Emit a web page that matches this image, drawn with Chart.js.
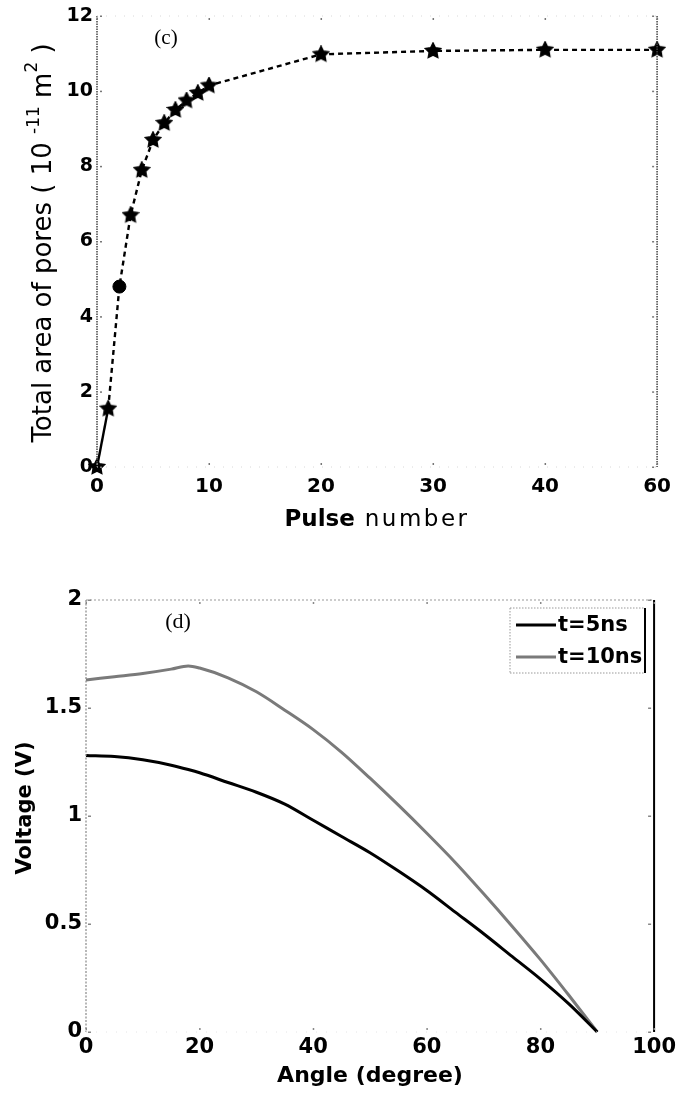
<!DOCTYPE html>
<html>
<head>
<meta charset="utf-8">
<script src="https://cdn.jsdelivr.net/npm/chart.js@4.4.1/dist/chart.umd.min.js"></script>
<style>
html,body{margin:0;padding:0;background:#fff;}
#wrap{position:relative;width:679px;height:1097px;background:#fff;overflow:hidden;}
#c1{position:absolute;left:0;top:0;}
#c2{position:absolute;left:0;top:540px;}
</style>
</head>
<body>
<div id="wrap">
<canvas id="c1" width="679" height="540"></canvas>
<canvas id="c2" width="679" height="557"></canvas>
</div>
<script>
// ---------- Panel (c) data ----------
const pulseNumbers = [0, 1, 2, 3, 4, 5, 6, 7, 8, 9, 10, 20, 30, 40, 60];
const poreArea = [0, 1.55, 4.8, 6.7, 7.9, 8.7, 9.15, 9.5, 9.75, 9.95, 10.15, 10.98, 11.07, 11.1, 11.1];
const pulseMarkers = ['star','star','circle','star','star','star','star','star','star','star','star','star','star','star','star'];
const pulseTickValues = [0, 10, 20, 30, 40, 60];
const pulseTickLabels = ['0', '10', '20', '30', '40', '60'];
const areaTickValues = [0, 2, 4, 6, 8, 10, 12];
const areaTickLabels = ['0', '2', '4', '6', '8', '10', '12'];

// ---------- Panel (d) data ----------
const angles = [0, 5, 10, 15, 18, 20, 25, 30, 35, 40, 45, 50, 55, 60, 65, 70, 75, 80, 85, 90];
const voltage5ns = [1.28, 1.275, 1.26, 1.235, 1.215, 1.2, 1.155, 1.11, 1.055, 0.98, 0.905, 0.83, 0.745, 0.655, 0.555, 0.455, 0.35, 0.245, 0.13, 0.0];
const voltage10ns = [1.63, 1.645, 1.66, 1.68, 1.695, 1.685, 1.64, 1.575, 1.49, 1.4, 1.295, 1.175, 1.05, 0.92, 0.785, 0.64, 0.49, 0.335, 0.17, 0.0];
const seriesLabels = ['t=5ns', 't=10ns'];
const angleTickValues = [0, 20, 40, 60, 80, 100];
const angleTickLabels = ['0', '20', '40', '60', '80', '100'];
const voltageTickValues = [0, 0.5, 1, 1.5, 2];
const voltageTickLabels = ['0', '0.5', '1', '1.5', '2'];

// The pulse axis has evenly spaced tick labels (0,10,20,30,40,60): map a pulse
// number to its position along that broken axis.
function pulseAxisPos(p) {
  for (let i = 0; i < pulseTickValues.length - 1; i++) {
    const a = pulseTickValues[i], b = pulseTickValues[i + 1];
    if (p <= b) return i * 10 + (p - a) / (b - a) * 10;
  }
  return (pulseTickValues.length - 1) * 10;
}

// filled pentagram marker
function makeStar(r) {
  const c = document.createElement('canvas');
  const s = Math.ceil(r * 2 + 2);
  c.width = s; c.height = s;
  const g = c.getContext('2d');
  g.fillStyle = '#000';
  g.strokeStyle = '#000';
  g.lineWidth = 1.5;
  g.beginPath();
  for (let i = 0; i < 10; i++) {
    const rad = i % 2 === 0 ? r : r * 0.5;
    const a = -Math.PI / 2 + i * Math.PI / 5;
    const x = s / 2 + rad * Math.cos(a), y = s / 2 + rad * Math.sin(a);
    if (i === 0) g.moveTo(x, y); else g.lineTo(x, y);
  }
  g.closePath();
  g.fill();
  g.stroke();
  return c;
}
const starImg = makeStar(8);

function line(ctx, x1, y1, x2, y2, color, width, dash) {
  ctx.save();
  ctx.strokeStyle = color; ctx.lineWidth = width; ctx.setLineDash(dash || []);
  ctx.beginPath(); ctx.moveTo(x1, y1); ctx.lineTo(x2, y2); ctx.stroke();
  ctx.restore();
}

function drawRich(ctx, parts, cx, cy, angle) {
  ctx.save();
  ctx.translate(cx, cy);
  ctx.rotate(angle || 0);
  ctx.fillStyle = '#000';
  ctx.textAlign = 'left';
  ctx.textBaseline = 'alphabetic';
  let total = 0;
  parts.forEach(p => {
    ctx.font = p.font;
    if ('letterSpacing' in ctx) ctx.letterSpacing = p.ls || '0px';
    p.w = ctx.measureText(p.text).width;
    total += p.w;
  });
  let x = -total / 2;
  parts.forEach(p => {
    ctx.font = p.font;
    if ('letterSpacing' in ctx) ctx.letterSpacing = p.ls || '0px';
    ctx.fillText(p.text, x, p.dy || 0);
    x += p.w;
  });
  ctx.restore();
}

const tickFontCx = { family: 'DejaVu Sans', size: 20, weight: 'bold' };
const tickFontCy = { family: 'DejaVu Sans', size: 19, weight: 'bold' };
const tickFontD = { family: 'DejaVu Sans', size: 21, weight: 'bold' };

// ---------- Panel (c) ----------
const decorC = {
  id: 'decorC',
  afterDraw(chart) {
    const ctx = chart.ctx, a = chart.chartArea;
    const xs = chart.scales.x, ys = chart.scales.y;
    // frame
    line(ctx, a.left, a.top, a.left, a.bottom, '#444', 1.5, [1.5, 1]);
    line(ctx, a.right, a.top, a.right, a.bottom, '#444', 1.5, [1.5, 1]);
    line(ctx, a.left, a.top, a.right, a.top, '#d8d8d8', 1, [1, 8]);
    line(ctx, a.left, a.bottom, a.right, a.bottom, '#d8d8d8', 1, [1, 8]);
    // tiny tick marks
    ctx.save(); ctx.fillStyle = '#777';
    pulseTickValues.forEach((v, i) => {
      const x = xs.getPixelForValue(i * 10);
      ctx.fillRect(x - 0.5, a.bottom - 4, 1.5, 2);
      ctx.fillRect(x - 0.5, a.top + 2, 1.5, 2);
    });
    areaTickValues.forEach(v => {
      const y = ys.getPixelForValue(v);
      ctx.fillRect(a.left + 3, y - 0.5, 2, 1.5);
      ctx.fillRect(a.right - 5, y - 0.5, 2, 1.5);
    });
    ctx.restore();
    // panel label
    ctx.save();
    ctx.fillStyle = '#000';
    ctx.font = '21px "Liberation Serif", "DejaVu Serif", serif';
    ctx.textAlign = 'center'; ctx.textBaseline = 'middle';
    ctx.fillText('(c)', 166, 38);
    ctx.restore();
    // y title
    const big = '26px "DejaVu Sans"';
    const sup = '17px "DejaVu Sans"';
    drawRich(ctx, [
      { text: 'Total area of pores ( 10 ', font: big },
      { text: '-11', font: sup, dy: -12 },
      { text: ' m', font: big },
      { text: '2', font: sup, dy: -14 },
      { text: ' )', font: big }
    ], 51, 243, -Math.PI / 2);
    // x title
    drawRich(ctx, [
      { text: 'Pulse', font: 'bold 23px "DejaVu Sans"' },
      { text: ' number', font: '23px "DejaVu Sans"', ls: '2.5px' }
    ], 377, 526, 0);
  }
};

new Chart(document.getElementById('c1'), {
  type: 'line',
  data: {
    datasets: [{
      data: pulseNumbers.map((p, i) => ({ x: pulseAxisPos(p), y: poreArea[i] })),
      borderColor: '#000',
      borderWidth: 2.4,
      borderDash: [5, 4],
      segment: { borderDash: ctx => ctx.p0DataIndex === 0 ? [] : [5, 4] },
      pointStyle: pulseMarkers.map(m => m === 'star' ? starImg : 'circle'),
      pointRadius: 6.5,
      pointBackgroundColor: '#000',
      pointBorderColor: '#000',
      pointBorderWidth: 1,
      tension: 0,
      clip: false
    }]
  },
  options: {
    responsive: false,
    animation: false,
    devicePixelRatio: 1,
    layout: { padding: { top: 16, right: 18, left: 0, bottom: 0 } },
    plugins: { legend: { display: false }, tooltip: { enabled: false } },
    scales: {
      x: {
        type: 'linear', min: 0, max: 50,
        afterBuildTicks: s => { s.ticks = pulseTickValues.map((v, i) => ({ value: i * 10 })); },
        afterFit: s => { s.height = 73; },
        ticks: {
          autoSkip: false, maxRotation: 0, padding: 8, color: '#000', font: tickFontCx,
          callback: (v, i) => pulseTickLabels[i]
        },
        grid: { display: false, drawTicks: false },
        border: { display: false }
      },
      y: {
        type: 'linear', min: 0, max: 12,
        afterBuildTicks: s => { s.ticks = areaTickValues.map(v => ({ value: v })); },
        afterFit: s => { s.width = 97; },
        ticks: {
          autoSkip: false, padding: 4, color: '#000', font: tickFontCy,
          callback: (v, i) => areaTickLabels[i]
        },
        grid: { display: false, drawTicks: false },
        border: { display: false }
      }
    }
  },
  plugins: [decorC]
});

// ---------- Panel (d) ----------
const seriesColors = ['#000000', '#7a7a7a'];
const decorD = {
  id: 'decorD',
  afterDraw(chart) {
    const ctx = chart.ctx, a = chart.chartArea;
    const xs = chart.scales.x, ys = chart.scales.y;
    line(ctx, a.left, a.top, a.right, a.top, '#999', 1, [2, 2]);
    line(ctx, a.left, a.top, a.left, a.bottom, '#888', 1.2, [2, 1.5]);
    line(ctx, a.right, a.top, a.right, a.bottom, '#000', 2, []);
    line(ctx, a.left, a.bottom, a.right, a.bottom, '#e4e4e4', 1, [1, 9]);
    ctx.save(); ctx.fillStyle = '#888';
    angleTickValues.forEach(v => {
      const x = xs.getPixelForValue(v);
      ctx.fillRect(x - 0.5, a.bottom - 4, 1.5, 2);
      ctx.fillRect(x - 0.5, a.top + 2, 1.5, 2);
    });
    voltageTickValues.forEach(v => {
      const y = ys.getPixelForValue(v);
      ctx.fillRect(a.left + 2, y - 0.5, 3, 1.5);
      ctx.fillRect(a.right - 6, y - 0.5, 3, 1.5);
    });
    ctx.restore();
    // legend box
    const bx1 = 510, by1 = 68, bx2 = 645, by2 = 133;
    line(ctx, bx1, by1, bx2, by1, '#999', 1, [1.5, 1.5]);
    line(ctx, bx1, by2, bx2, by2, '#999', 1, [1.5, 1.5]);
    line(ctx, bx1, by1, bx1, by2, '#999', 1, [1.5, 1.5]);
    line(ctx, bx2, by1, bx2, by2, '#000', 2, []);
    ctx.save();
    ctx.font = 'bold 21px "DejaVu Sans"';
    ctx.fillStyle = '#000'; ctx.textAlign = 'left'; ctx.textBaseline = 'middle';
    const rows = [85, 117];
    chart.data.datasets.forEach((ds, i) => {
      line(ctx, 516, rows[i], 556, rows[i], ds.borderColor, 3, []);
      ctx.fillText(ds.label, 558, rows[i] + 1);
    });
    ctx.restore();
    // panel label
    ctx.save();
    ctx.fillStyle = '#000';
    ctx.font = '22px "Liberation Serif", "DejaVu Serif", serif';
    ctx.textAlign = 'center'; ctx.textBaseline = 'middle';
    ctx.fillText('(d)', 178, 82);
    ctx.restore();
    drawRich(ctx, [{ text: 'Voltage (V)', font: 'bold 21px "DejaVu Sans"' }], 31, 268, -Math.PI / 2);
    drawRich(ctx, [{ text: 'Angle (degree)', font: 'bold 22px "DejaVu Sans"' }], 370, 542, 0);
  }
};

new Chart(document.getElementById('c2'), {
  type: 'line',
  data: {
    datasets: [
      {
        label: seriesLabels[0],
        data: angles.map((x, i) => ({ x: x, y: voltage5ns[i] })),
        borderColor: seriesColors[0], borderWidth: 3, pointRadius: 0,
        cubicInterpolationMode: 'monotone', clip: false
      },
      {
        label: seriesLabels[1],
        data: angles.map((x, i) => ({ x: x, y: voltage10ns[i] })),
        borderColor: seriesColors[1], borderWidth: 3, pointRadius: 0,
        cubicInterpolationMode: 'monotone', clip: false
      }
    ]
  },
  options: {
    responsive: false,
    animation: false,
    devicePixelRatio: 1,
    layout: { padding: { top: 60, right: 21, left: 0, bottom: 0 } },
    plugins: { legend: { display: false }, tooltip: { enabled: false } },
    scales: {
      x: {
        type: 'linear', min: 0, max: 100,
        afterBuildTicks: s => { s.ticks = angleTickValues.map(v => ({ value: v })); },
        afterFit: s => { s.height = 65; },
        ticks: {
          autoSkip: false, maxRotation: 0, padding: 3, color: '#000', font: tickFontD,
          callback: (v, i) => angleTickLabels[i]
        },
        grid: { display: false, drawTicks: false },
        border: { display: false }
      },
      y: {
        type: 'linear', min: 0, max: 2,
        afterBuildTicks: s => { s.ticks = voltageTickValues.map(v => ({ value: v })); },
        afterFit: s => { s.width = 86; },
        ticks: {
          autoSkip: false, padding: 4, color: '#000', font: tickFontD,
          callback: (v, i) => voltageTickLabels[i]
        },
        grid: { display: false, drawTicks: false },
        border: { display: false }
      }
    }
  },
  plugins: [decorD]
});
</script>
</body>
</html>
